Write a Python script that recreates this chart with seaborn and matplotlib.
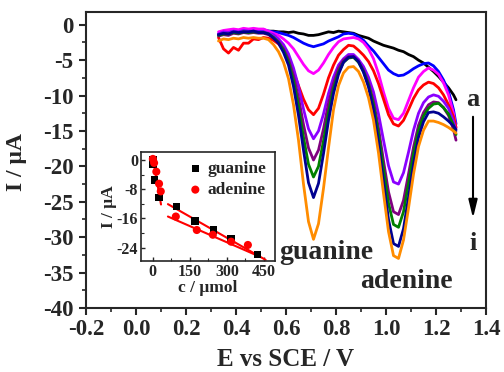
import pandas as pd
import matplotlib
matplotlib.use('Agg')
import matplotlib.pyplot as plt
import seaborn as sns
from matplotlib.ticker import MultipleLocator

# Potential grid shared by all DPV curves (V vs SCE)
potential = [0.33, 0.35, 0.37, 0.39, 0.41, 0.43, 0.45, 0.47, 0.49, 0.51, 0.53,
             0.55, 0.57, 0.59, 0.61, 0.63, 0.65, 0.67, 0.69, 0.71, 0.73, 0.75,
             0.77, 0.79, 0.81, 0.83, 0.85, 0.87, 0.89, 0.91, 0.93, 0.95, 0.97,
             0.99, 1.01, 1.03, 1.05, 1.07, 1.09, 1.11, 1.13, 1.15, 1.17, 1.19,
             1.21, 1.23, 1.25, 1.27, 1.28]

# Currents (uA) for curves a..i
curve_a = [-1.3, -1.0, -1.1, -0.9, -1.0, -0.8, -0.9, -0.8, -0.9, -0.8, -0.9,
           -0.9, -1.0, -1.0, -1.1, -1.0, -1.2, -1.3, -1.5, -1.5, -1.4, -1.2,
           -1.0, -1.1, -0.9, -1.0, -1.1, -1.2, -1.5, -1.7, -1.9, -2.3, -2.6,
           -2.9, -3.1, -3.3, -3.6, -3.8, -4.2, -4.5, -5.0, -5.4, -6.0, -6.6,
           -7.3, -8.1, -8.9, -9.9, -10.6]
curve_b = [-1.3, -1.0, -0.9, -0.8, -0.9, -0.7, -0.8, -0.7, -0.8, -0.7, -0.9,
           -1.0, -1.1, -1.3, -1.5, -1.8, -2.2, -2.6, -2.9, -3.1, -2.9, -2.7,
           -2.3, -2.0, -1.7, -1.3, -1.2, -1.3, -1.7, -2.2, -3.0, -3.7, -4.6,
           -5.5, -6.4, -6.9, -7.2, -7.1, -6.7, -6.2, -5.8, -5.5, -5.4, -5.8,
           -6.6, -7.8, -9.4, -12.0, -14.0]
curve_c = [-1.0, -0.8, -0.7, -0.6, -0.7, -0.5, -0.6, -0.5, -0.6, -0.6, -0.9,
           -1.2, -1.5, -2.0, -2.6, -3.4, -4.5, -5.6, -6.5, -6.9, -6.4, -5.4,
           -4.2, -3.2, -2.4, -2.0, -1.9, -1.8, -2.0, -2.5, -3.4, -4.8, -6.9,
           -9.5, -11.8, -13.2, -13.4, -12.5, -10.7, -8.9, -7.4, -6.6, -6.1, -6.4,
           -7.0, -8.2, -9.9, -12.5, -14.6]
curve_d = [-1.8, -3.4, -4.0, -3.2, -3.6, -2.6, -2.6, -2.0, -2.1, -1.8, -1.9,
           -2.2, -2.7, -3.5, -4.8, -6.6, -8.6, -10.5, -12.0, -12.7, -11.8, -9.8,
           -7.5, -5.7, -4.3, -3.5, -2.9, -3.0, -3.6, -4.3, -5.2, -6.5, -8.3,
           -10.5, -12.7, -14.0, -14.3, -13.5, -12.0, -10.4, -9.2, -8.5, -8.1, -8.3,
           -8.9, -9.9, -11.3, -13.0, -14.5]
curve_e = [-1.3, -1.0, -1.1, -0.9, -1.0, -0.8, -0.9, -0.9, -1.0, -1.0, -1.2,
           -1.4, -2.0, -2.8, -4.1, -6.1, -8.7, -11.9, -14.7, -16.1, -15.0, -12.6,
           -9.7, -7.4, -5.7, -4.8, -4.2, -4.2, -4.9, -5.9, -7.4, -9.5, -12.6,
           -16.3, -19.9, -22.2, -22.5, -20.9, -18.0, -14.9, -12.5, -11.0, -10.2, -9.9,
           -10.1, -10.8, -11.8, -13.6, -15.0]
curve_f = [-1.6, -1.4, -1.5, -1.2, -1.3, -1.1, -1.2, -1.1, -1.2, -1.2, -1.4,
           -1.8, -2.4, -3.4, -4.9, -7.2, -10.3, -14.1, -17.4, -19.1, -17.7, -14.7,
           -11.1, -8.3, -6.2, -5.0, -4.5, -4.5, -5.2, -6.4, -8.2, -10.8, -14.6,
           -19.2, -23.6, -26.4, -26.8, -24.8, -21.1, -17.3, -14.2, -12.4, -11.3, -10.9,
           -11.0, -11.7, -12.8, -14.8, -16.3]
curve_g = [-1.5, -1.3, -1.3, -1.1, -1.2, -1.0, -1.1, -1.0, -1.1, -1.1, -1.3,
           -1.8, -2.5, -3.6, -5.3, -7.9, -11.5, -15.9, -19.7, -21.5, -20.0, -16.4,
           -12.4, -9.0, -6.7, -5.3, -4.7, -4.6, -5.3, -6.6, -8.5, -11.3, -15.4,
           -20.4, -25.2, -28.2, -28.6, -26.4, -22.4, -18.2, -14.9, -12.9, -11.8, -11.2,
           -11.1, -11.7, -12.6, -14.2, -15.5]
curve_h = [-1.4, -1.2, -1.3, -1.0, -1.1, -1.0, -1.0, -0.9, -1.1, -1.1, -1.3,
           -1.9, -2.6, -3.9, -5.7, -8.7, -12.8, -17.7, -22.3, -24.4, -22.4, -18.2,
           -13.5, -9.7, -7.0, -5.3, -4.6, -4.5, -5.2, -6.7, -8.8, -12.0, -16.6,
           -22.1, -27.5, -30.9, -31.3, -28.8, -24.4, -19.7, -15.9, -13.7, -12.4, -12.3,
           -12.5, -13.0, -13.6, -14.3, -14.8]
curve_i = [-2.3, -2.0, -2.1, -1.9, -2.0, -1.8, -1.9, -1.8, -1.9, -1.9, -2.1,
           -2.8, -3.8, -5.3, -7.6, -11.3, -16.3, -22.5, -27.8, -30.3, -28.1, -23.1,
           -17.4, -12.0, -8.6, -6.8, -6.0, -5.9, -6.6, -8.1, -10.3, -13.5, -18.1,
           -23.8, -29.2, -32.6, -33.0, -30.4, -25.9, -21.1, -17.2, -14.9, -13.6, -13.6,
           -13.8, -14.1, -14.5, -15.0, -15.3]

curve_names = ['a', 'b', 'c', 'd', 'e', 'f', 'g', 'h', 'i']
curve_colors = ['#000000', '#0000ff', '#ff00ff', '#ff0000', '#8a00ff',
                '#800080', '#008000', '#000090', '#ff8c00']

# Inset calibration data (concentration / peak current)
guanine_c = [0, 0, 7, 25, 96, 171, 246, 317, 423]
guanine_i = [0.0, -1.2, -5.5, -10.3, -12.8, -16.7, -19.2, -21.5, -26.0]
adenine_c = [0, 5, 14, 25, 32, 93, 178, 243, 317, 385]
adenine_i = [0.3, -0.8, -3.2, -6.5, -8.6, -15.5, -19.2, -20.5, -22.4, -23.3]
fit_low_c = [0, 33]
fit_low_i = [0.5, -12.2]
fit_gua_c = [61, 457]
fit_gua_i = [-12.1, -27.4]
fit_ade_c = [61, 416]
fit_ade_i = [-15.5, -26.0]

sns.set_theme(style='ticks')
plt.rcParams['font.family'] = ['Liberation Serif', 'DejaVu Serif']
plt.rcParams['font.weight'] = 'bold'
plt.rcParams['axes.labelweight'] = 'bold'
plt.rcParams['axes.unicode_minus'] = False
plt.rcParams['axes.linewidth'] = 1.5

curves = [curve_a, curve_b, curve_c, curve_d, curve_e, curve_f, curve_g, curve_h, curve_i]
rows = []
for name, ys in zip(curve_names, curves):
    for xv, yv in zip(potential, ys):
        rows.append({'E': xv, 'I': yv, 'curve': name})
df = pd.DataFrame(rows)

fig = plt.figure(figsize=(5.04, 3.72), dpi=100)
ax = fig.add_axes([0.1706, 0.172, 0.7937, 0.7957])
sns.lineplot(data=df, x='E', y='I', hue='curve', palette=curve_colors,
             sort=False, estimator=None, linewidth=2, legend=False, ax=ax)

ax.set_xlim(-0.2, 1.4)
ax.set_ylim(-40, 1.8)
ax.xaxis.set_major_locator(MultipleLocator(0.2))
ax.xaxis.set_minor_locator(MultipleLocator(0.1))
ax.yaxis.set_major_locator(MultipleLocator(5))
ax.yaxis.set_minor_locator(MultipleLocator(2.5))
ax.set_xticklabels([f'{v:.1f}' for v in ax.get_xticks()])
ax.tick_params(which='major', direction='out', length=5, width=1.5, labelsize=16.5)
ax.tick_params(axis='x', which='major', pad=3)
ax.tick_params(axis='y', which='major', pad=4)
ax.tick_params(which='minor', direction='out', length=3, width=1.2)
ax.set_xlabel('E vs SCE / V', fontsize=18, labelpad=6)
ax.set_ylabel('I / μA', fontsize=17)
ax.yaxis.set_label_coords(-0.1475, 0.494)
for sp in ax.spines.values():
    sp.set_visible(True)

ax.text(0.763, -32.2, 'guanine', ha='center', va='center', fontsize=20, fontweight='bold')
ax.text(1.083, -36.2, 'adenine', ha='center', va='center', fontsize=20, fontweight='bold')
ax.text(1.348, -10.6, 'a', ha='center', va='center', fontsize=19, fontweight='bold')
ax.text(1.348, -30.9, 'i', ha='center', va='center', fontsize=19, fontweight='bold')
ax.annotate('', xy=(1.348, -27.7), xytext=(1.348, -12.6),
            arrowprops=dict(arrowstyle='-|>,head_length=0.9,head_width=0.22',
                            color='black', lw=1.5))

# Inset: calibration plot
axi = fig.add_axes([0.2798, 0.2984, 0.2659, 0.293])
axi.plot(fit_low_c, fit_low_i, color='red', linewidth=1.5)
axi.plot(fit_gua_c, fit_gua_i, color='red', linewidth=1.5)
axi.plot(fit_ade_c, fit_ade_i, color='red', linewidth=1.5)
sns.scatterplot(x=guanine_c, y=guanine_i, marker='s', color='black', s=28,
                edgecolor='none', label='guanine', ax=axi, zorder=3)
sns.scatterplot(x=adenine_c, y=adenine_i, marker='o', color='red', s=34,
                edgecolor='none', label='adenine', ax=axi, zorder=3)
axi.set_xlim(-48, 495)
axi.set_ylim(-27.7, 2.2)
axi.set_xticks([0, 150, 300, 450])
axi.set_yticks([0, -8, -16, -24])
axi.xaxis.set_minor_locator(MultipleLocator(75))
axi.yaxis.set_minor_locator(MultipleLocator(4))
axi.tick_params(which='major', direction='in', length=3, width=1, labelsize=11.5, pad=2)
axi.tick_params(which='minor', direction='in', length=2, width=0.8)
axi.set_xlabel('c / μmol', fontsize=12.5, labelpad=0)
axi.set_ylabel('I / μA', fontsize=12.5, labelpad=0)
for sp in axi.spines.values():
    sp.set_visible(True)
    sp.set_linewidth(1.2)
leg = axi.legend(loc='upper right', frameon=False, fontsize=12.5,
                 handletextpad=0.2, borderaxespad=0.1, labelspacing=0.3,
                 handlelength=1.0)
for t in leg.get_texts():
    t.set_fontweight('bold')

fig.savefig('out.png', dpi=100)
